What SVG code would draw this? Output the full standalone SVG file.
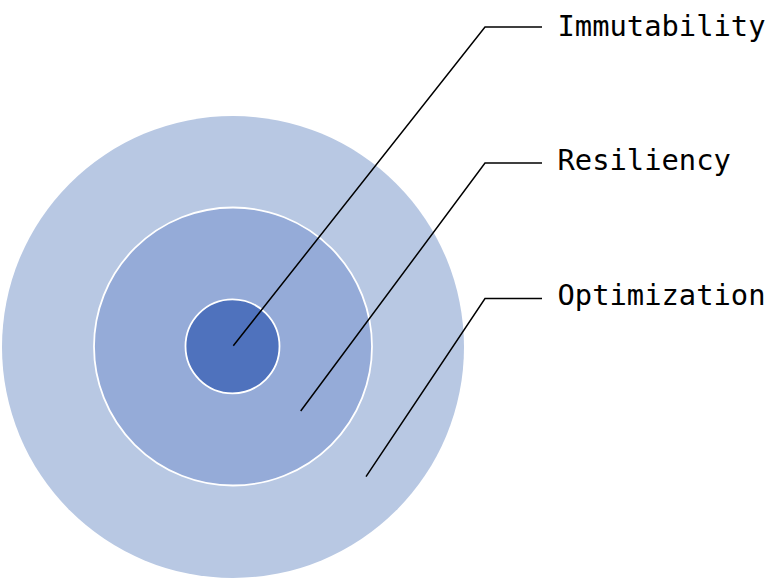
<svg xmlns="http://www.w3.org/2000/svg" width="776" height="588" viewBox="0 0 776 588">
<style>
.lbl{font-family:"DejaVu Sans Mono","Liberation Mono",monospace;font-size:28.8px;fill:#000}
.ring{stroke:#fff;stroke-width:1.8}
.conn{fill:none;stroke:#000;stroke-width:1.5;stroke-linejoin:miter}
</style>
<rect width="776" height="588" fill="#fff"/>
<g id="optimization">
<circle cx="233" cy="347" r="231" fill="#B8C8E3"/>
</g>
<g id="resiliency">
<circle class="ring" cx="233" cy="346.5" r="139" fill="#95ABD8"/>
</g>
<g id="immutability">
<circle class="ring" cx="232.5" cy="346.3" r="47" fill="#4F72BD"/>
</g>
<g id="connectors">
<polyline class="conn" points="233.3,345.7 485,27 542,27"/>
<polyline class="conn" points="300.7,411 485,163 542,163"/>
<polyline class="conn" points="366,476.7 485,298.5 542,298.5"/>
</g>
<g id="labels">
<text class="lbl" x="557.5" y="36">Immutability</text>
<text class="lbl" x="557.5" y="170">Resiliency</text>
<text class="lbl" x="557.5" y="305">Optimization</text>
</g>
</svg>
